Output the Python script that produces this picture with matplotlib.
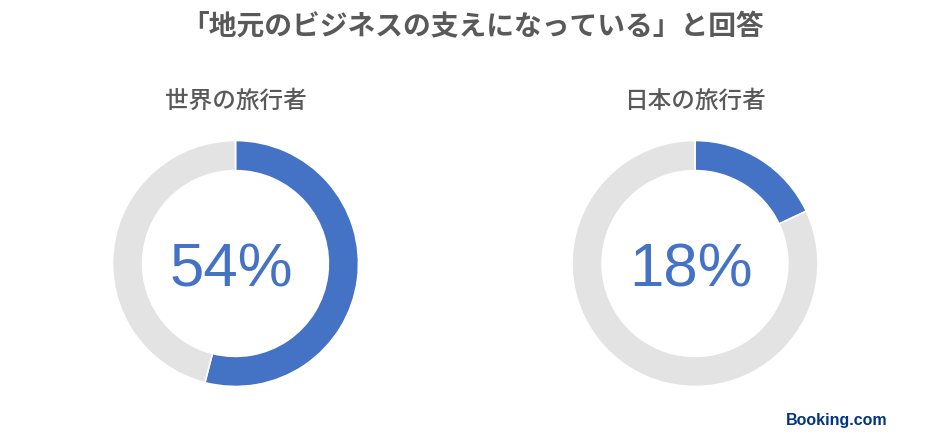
import matplotlib
matplotlib.use("Agg")
import matplotlib.pyplot as plt

plt.rcParams["font.family"] = ["Noto Sans CJK JP", "DejaVu Sans"]

# data
groups = ["世界の旅行者", "日本の旅行者"]
shares = [54, 18]
title = "「地元のビジネスの支えになっている」と回答"

blue = "#4472C4"
light = "#E3E3E3"
gray = "#595959"

W, H = 940, 446
fig = plt.figure(figsize=(W / 100, H / 100), dpi=100)

centers_x = [235.5, 695]
center_y = 263.5
radius = 123

for name, pct, cx in zip(groups, shares, centers_x):
    ax = fig.add_axes([(cx - radius) / W, (H - center_y - radius) / H,
                       2 * radius / W, 2 * radius / H])
    ax.pie([pct, 100 - pct], colors=[blue, light], startangle=90,
           counterclock=False, radius=1,
           wedgeprops=dict(width=0.245, edgecolor="white", linewidth=1.2))
    ax.set_xlim(-1, 1)
    ax.set_ylim(-1, 1)
    ax.set_aspect("equal")
    ax.axis("off")
    ax.text(-0.03, -0.065, f"{pct}%", ha="center", va="center", fontsize=44.5,
            color=blue, family="Liberation Sans")
    fig.text(cx / W, 1 - 101 / H, name, ha="center", va="center",
             fontsize=17, color=gray, fontweight="medium")

fig.text(473 / W, 1 - 27 / H, title, ha="center", va="center",
         fontsize=20, color=gray, fontweight="bold")

fig.text(837 / W, 1 - 420 / H, "Booking.com", ha="center", va="center",
         fontsize=11.5, color="#003580", fontweight="bold",
         family="Liberation Sans")

fig.savefig("out.png", dpi=100, facecolor="white")
